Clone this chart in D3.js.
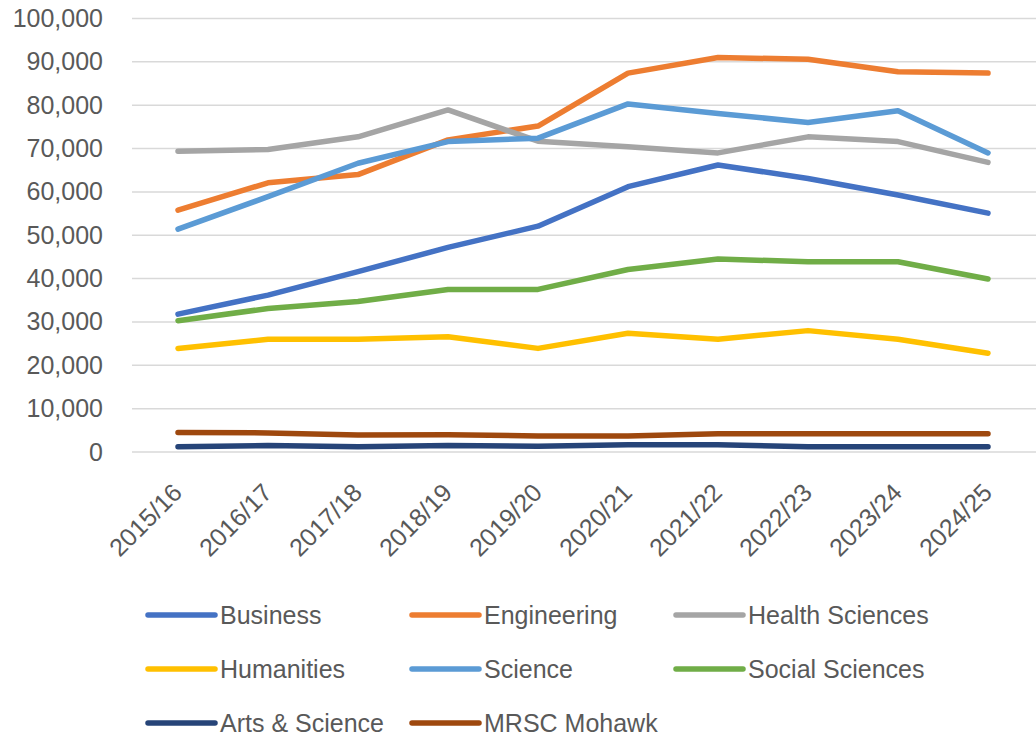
<!DOCTYPE html>
<html>
<head>
<meta charset="utf-8">
<script src="https://cdn.jsdelivr.net/npm/d3@7"></script>
<style>
  html, body { margin: 0; padding: 0; background: #ffffff; }
  svg { display: block; font-family: "Liberation Sans", Arial, sans-serif; }
</style>
</head>
<body>
<svg id="chart" width="1036" height="737"></svg>
<script>
// Academic years on the category axis
const years = ["2015/16", "2016/17", "2017/18", "2018/19", "2019/20",
               "2020/21", "2021/22", "2022/23", "2023/24", "2024/25"];

// Value-axis ticks
const yTicks = [0, 10000, 20000, 30000, 40000, 50000, 60000, 70000, 80000, 90000, 100000];

// One array per faculty
const business       = [31800, 36200, 41600, 47200, 52100, 61200, 66200, 63100, 59300, 55100];
const engineering    = [55800, 62100, 64000, 72000, 75200, 87400, 91000, 90600, 87700, 87400];
const healthSciences = [69400, 69800, 72700, 78900, 71700, 70400, 69000, 72700, 71600, 66800];
const humanities     = [23900, 26000, 26000, 26600, 23900, 27400, 26000, 28000, 26000, 22800];
const science        = [51400, 58900, 66600, 71600, 72400, 80300, 78100, 76000, 78700, 69000];
const socialSciences = [30300, 33100, 34700, 37500, 37500, 42100, 44500, 43900, 43900, 39900];
const artsScience    = [1200, 1500, 1200, 1500, 1300, 1700, 1700, 1200, 1200, 1200];
const mrscMohawk     = [4500, 4400, 3900, 4000, 3700, 3700, 4200, 4200, 4200, 4200];

const seriesNames  = ["Business", "Engineering", "Health Sciences", "Humanities",
                      "Science", "Social Sciences", "Arts & Science", "MRSC Mohawk"];
const seriesValues = [business, engineering, healthSciences, humanities,
                      science, socialSciences, artsScience, mrscMohawk];
const seriesColors = ["#4472C4", "#ED7D31", "#A5A5A5", "#FFC000",
                      "#5B9BD5", "#70AD47", "#264478", "#9E480E"];

const svg = d3.select("#chart");

const plotLeft = 132, plotRight = 1036;
const x = d3.scalePoint().domain(years).range([178, 988]);
const y = d3.scaleLinear().domain([0, 100000]).range([452, 18.5]);

// Horizontal gridlines
svg.append("g")
  .selectAll("line")
  .data(yTicks)
  .join("line")
  .attr("x1", plotLeft).attr("x2", plotRight)
  .attr("y1", d => y(d)).attr("y2", d => y(d))
  .attr("stroke", "#d9d9d9")
  .attr("stroke-width", 1.5);

// Value axis labels
const yAxis = d3.axisLeft(y).tickValues(yTicks).tickFormat(d3.format(",")).tickSize(0).tickPadding(0);
const yg = svg.append("g").attr("transform", "translate(103,0)").call(yAxis);
yg.select(".domain").remove();
yg.selectAll("text")
  .attr("fill", "#595959")
  .attr("font-size", 25)
  .attr("font-family", "Liberation Sans, Arial, sans-serif");

// Category axis labels, rotated
const xAxis = d3.axisBottom(x).tickSize(0).tickPadding(0);
const xg = svg.append("g").attr("transform", "translate(0,452)").call(xAxis);
xg.select(".domain").remove();
xg.selectAll("text")
  .attr("fill", "#595959")
  .attr("font-size", 25)
  .attr("font-family", "Liberation Sans, Arial, sans-serif")
  .attr("text-anchor", "end")
  .attr("dy", "0.35em")
  .attr("transform", "translate(-1,36) rotate(-45)")
  .attr("y", 0);

// Series lines
const line = d3.line()
  .x((d, i) => x(years[i]))
  .y(d => y(d));

svg.append("g")
  .selectAll("path")
  .data(seriesValues)
  .join("path")
  .attr("d", d => line(d))
  .attr("fill", "none")
  .attr("stroke", (d, i) => seriesColors[i])
  .attr("stroke-width", 5.5)
  .attr("stroke-linecap", "round")
  .attr("stroke-linejoin", "round");

// Legend: three columns, three rows
const legendCols = [148, 412, 676];
const legendRows = [615, 669, 723];
const legend = svg.append("g")
  .selectAll("g")
  .data(seriesNames)
  .join("g")
  .attr("transform", (d, i) => `translate(${legendCols[i % 3]},${legendRows[Math.floor(i / 3)]})`);

legend.append("line")
  .attr("x1", 0).attr("x2", 67)
  .attr("y1", 0).attr("y2", 0)
  .attr("stroke", (d, i) => seriesColors[i])
  .attr("stroke-width", 5.5)
  .attr("stroke-linecap", "round");

legend.append("text")
  .attr("x", 72)
  .attr("y", 0)
  .attr("dy", "0.35em")
  .attr("fill", "#595959")
  .attr("font-size", 25)
  .text(d => d);
</script>
</body>
</html>
